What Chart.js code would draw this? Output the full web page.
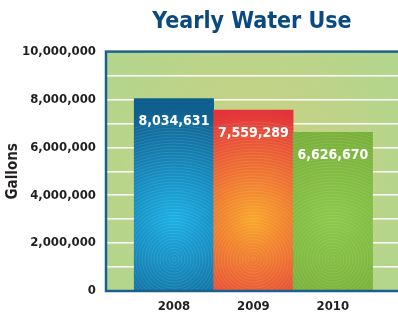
<!DOCTYPE html>
<html lang="en">
<head>
  <meta charset="UTF-8">
  <title>Yearly Water Use</title>
  <script src="https://cdn.jsdelivr.net/npm/chart.js"></script>
  <style>
    body { margin: 0; background: #ffffff; }
    .box { width: 398px; height: 317px; }
  </style>
</head>
<body>
  <div class="box"><canvas id="grafico"></canvas></div>

<script>
  // dados
  var anos = [2008, 2009, 2010];
  var galoes = [8034631, 7559289, 6626670];
  var rotulos = ['8,034,631', '7,559,289', '6,626,670'];

  // cores de cada barra: borda, meio
  var coresBorda = ['#10608f', '#e3333b', '#74aa36'];
  var coresMeio = ['#1cb0e6', '#f8a72a', '#8cc94c'];

  var fonte = "'Liberation Sans Narrow', 'DejaVu Sans Condensed', sans-serif";

  function centroBarra(chart, i) {
    var area = chart.chartArea;
    return {
      x: chart.scales.x.getPixelForValue(anos[i]),
      y: area.top + (area.bottom - area.top) * 0.7
    };
  }

  function corBarra(c) {
    var chart = c.chart;
    if (!chart.chartArea) return coresBorda[c.dataIndex];
    var p = centroBarra(chart, c.dataIndex);
    var g = chart.ctx.createRadialGradient(p.x, p.y, 0, p.x, p.y, 110);
    g.addColorStop(0, coresMeio[c.dataIndex]);
    g.addColorStop(1, coresBorda[c.dataIndex]);
    return g;
  }

  // fundo verde e moldura azul da area do grafico
  var fundo = {
    id: 'fundo',
    beforeDraw: function (chart) {
      var a = chart.chartArea;
      var ctx = chart.ctx;
      var cx = (a.left + a.right) / 2;
      var cy = (a.top + a.bottom) / 2;
      var g = ctx.createRadialGradient(cx, cy, 0, cx, cy, 170);
      g.addColorStop(0, '#cfd083');
      g.addColorStop(1, '#b3d68c');
      ctx.save();
      ctx.fillStyle = g;
      ctx.fillRect(a.left, a.top, a.right - a.left, a.bottom - a.top);
      ctx.restore();
    },
    afterDraw: function (chart) {
      var a = chart.chartArea;
      var ctx = chart.ctx;
      ctx.save();
      ctx.strokeStyle = '#1b5f8e';
      ctx.lineWidth = 2.5;
      ctx.strokeRect(a.left, a.top, a.right - a.left + 4, a.bottom - a.top);
      ctx.restore();
    }
  };

  // textura de ondas e numeros brancos dentro das barras
  var valores = {
    id: 'valores',
    afterDatasetsDraw: function (chart) {
      var ctx = chart.ctx;
      var meta = chart.getDatasetMeta(0);
      meta.data.forEach(function (barra, i) {
        var p = centroBarra(chart, i);
        ctx.save();
        ctx.beginPath();
        ctx.rect(barra.x - barra.width / 2, barra.y, barra.width, barra.base - barra.y);
        ctx.clip();
        ctx.strokeStyle = 'rgba(255,255,255,0.10)';
        ctx.lineWidth = 1;
        for (var r = 2; r < 140; r += 3) {
          ctx.beginPath();
          ctx.arc(p.x, p.y + 40, r, 0, Math.PI * 2);
          ctx.stroke();
        }
        ctx.restore();
      });
      ctx.save();
      ctx.fillStyle = '#ffffff';
      ctx.font = 'bold 14px ' + fonte;
      ctx.textAlign = 'center';
      ctx.textBaseline = 'middle';
      meta.data.forEach(function (barra, i) {
        ctx.fillText(rotulos[i], barra.x, barra.y + 23);
      });
      ctx.restore();
    }
  };

  var ctx = document.getElementById('grafico').getContext('2d');

  var chartData = {
    datasets: [{
      label: 'Gallons',
      data: anos.map(function (a, i) { return { x: a, y: galoes[i] }; }),
      backgroundColor: corBarra,
      borderWidth: 0,
      barPercentage: 1,
      categoryPercentage: 1
    }]
  };

  var config = {
    type: 'bar',
    data: chartData,
    options: {
      responsive: true,
      maintainAspectRatio: false,
      animation: false,
      layout: { padding: { left: 4, right: 0, top: 0, bottom: 0 } },
      scales: {
        x: {
          type: 'linear',
          offset: false,
          min: 2007.145,
          max: 2010.82,
          grid: { display: false, drawTicks: false },
          border: { display: false },
          afterBuildTicks: function (scale) {
            scale.ticks = anos.map(function (a) { return { value: a }; });
          },
          afterFit: function (scale) {
            scale.height = 26;
          },
          ticks: {
            maxRotation: 0,
            color: '#231f20',
            font: { family: fonte, size: 13, weight: 'bold' },
            padding: 8,
            callback: function (v) { return String(v); }
          }
        },
        y: {
          min: 0,
          max: 10000000,
          grid: {
            color: '#ffffff',
            lineWidth: 1.5,
            drawTicks: false
          },
          border: { display: false },
          afterFit: function (scale) {
            scale.width = 102;
          },
          ticks: {
            stepSize: 1000000,
            autoSkip: false,
            color: '#231f20',
            font: { family: fonte, size: 13, weight: 'bold' },
            padding: 10,
            callback: function (v) {
              if (v % 2000000 !== 0) return '';
              return v.toLocaleString('en-US');
            }
          },
          title: {
            display: true,
            text: 'Gallons',
            color: '#231f20',
            font: { family: fonte, size: 15, weight: 'bold' },
            padding: { top: 0, bottom: 2 }
          }
        }
      },
      plugins: {
        legend: { display: false },
        tooltip: { enabled: false },
        title: {
          display: true,
          text: 'Yearly Water Use',
          fullSize: false,
          color: '#0b4a80',
          font: { family: fonte, size: 23, weight: 'bold' },
          padding: { top: 8, bottom: 16 }
        }
      }
    },
    plugins: [fundo, valores]
  };

  new Chart(ctx, config);
</script>
</body>
</html>
